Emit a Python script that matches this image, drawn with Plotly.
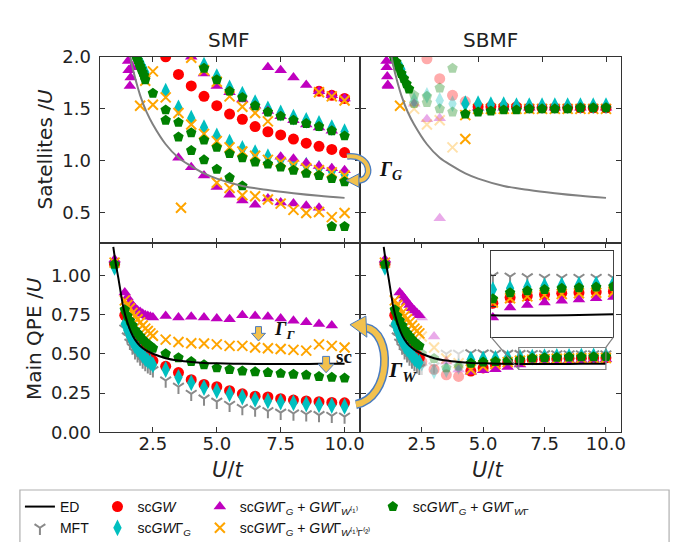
import plotly.graph_objects as go

W, H = 678, 542

# ---------------- data ----------------
# ED reference curves
ed_sat_u = [1.6, 1.7, 1.8, 2.0, 2.25, 2.5, 3.0, 3.5, 4.0, 4.5, 5.0, 6.0, 7.0, 8.0, 9.0, 10.0]
ed_sat = [2.02, 1.90, 1.80, 1.63, 1.47, 1.35, 1.16, 1.03, 0.95, 0.88, 0.83, 0.76, 0.72, 0.69, 0.665, 0.645]
ed_qpe_u = [0.95, 1.05, 1.15, 1.25, 1.35, 1.5, 1.65, 1.8, 2.0, 2.25, 2.5, 3.0, 3.5, 4.0, 4.5, 5.0,
            6.0, 7.0, 8.0, 9.0, 10.0]
ed_qpe = [1.18, 1.07, 0.98, 0.88, 0.79, 0.70, 0.635, 0.59, 0.55, 0.52, 0.50, 0.472, 0.457, 0.448,
          0.442, 0.439, 0.436, 0.435, 0.435, 0.436, 0.437]

# ---- SMF satellites ----
smf_sat_gw_u = [3.0, 3.5, 4.0, 4.5, 5.0, 5.5, 6.0, 6.5, 7.0, 7.5, 8.0, 8.5, 9.0, 9.5, 10.0, 9.0, 9.5, 10.0]
smf_sat_gw = [2.00, 1.83, 1.72, 1.62, 1.53, 1.45, 1.40, 1.33, 1.28, 1.25, 1.21, 1.17, 1.14, 1.11, 1.08,
              1.67, 1.63, 1.60]
smf_sat_gwg_u = [1.9, 2.0, 2.1, 2.2,
                 4.5, 5.0, 5.5, 6.0, 6.5, 7.0, 7.5, 8.0, 8.5, 9.0, 9.5, 10.0,
                 3.0, 3.5, 4.0, 4.5, 5.0, 5.5, 6.0, 6.5, 7.0, 7.5, 8.0, 8.5, 9.0, 9.5, 10.0]
smf_sat_gwg = [1.98, 1.95, 1.90, 1.85,
               1.92, 1.81, 1.70, 1.64, 1.56, 1.50, 1.46, 1.42, 1.39, 1.36, 1.32, 1.28,
               1.67, 1.51, 1.41, 1.32, 1.24, 1.18, 1.12, 1.08, 1.04, 1.01, 0.98, 0.96, 0.93, 0.90, 0.87]
smf_sat_w1_u = [1.53, 1.55, 1.60, 1.63, 1.68,
                7.0, 7.5, 8.0, 8.5, 9.0, 9.5, 10.0,
                4.0, 4.5, 5.0, 5.5, 6.0, 6.5, 7.0, 7.5, 8.0, 8.5, 9.0, 9.5,
                7.5, 8.0, 8.5, 9.0, 9.5, 10.0,
                3.5, 4.0, 4.5, 5.0, 5.5, 6.0, 6.5, 7.0, 7.5, 8.0, 8.5, 9.0]
smf_sat_w1 = [1.96, 1.87, 1.72, 1.80, 1.90,
              1.90, 1.87, 1.80, 1.73, 1.67, 1.63, 1.60,
              2.00, 1.84, 1.72, 1.66, 1.59, 1.53, 1.48, 1.43, 1.39, 1.35, 1.32, 1.29,
              1.04, 1.02, 0.98, 0.95, 0.93, 0.91,
              1.03, 0.94, 0.86, 0.75, 0.675, 0.62, 0.58, 0.64, 0.60, 0.59, 0.57, 0.55]
smf_sat_w12_u = [2.0, 2.2, 2.5, 2.5,
                 4.0, 4.5, 5.0, 5.5, 6.0, 6.5, 7.0,
                 9.0, 9.5, 10.0,
                 3.0, 3.5, 4.0, 4.5, 5.0, 5.5, 6.0, 6.5, 7.0, 7.5, 8.0, 8.5, 9.0, 9.5, 10.0,
                 3.6, 5.0, 5.5, 6.0, 6.5, 7.0, 7.5, 8.0, 8.5, 9.0, 9.5, 10.0]
smf_sat_w12 = [1.53, 1.77, 1.54, 1.86,
               1.99, 1.87, 1.76, 1.62, 1.52, 1.46, 1.38,
               1.66, 1.62, 1.58,
               1.61, 1.46, 1.35, 1.26, 1.19, 1.13, 1.09, 1.05, 1.01, 0.99, 0.96, 0.93, 0.91, 0.89, 0.86,
               0.55, 0.79, 0.74, 0.67, 0.66, 0.63, 0.59, 0.53, 0.50, 0.51, 0.46, 0.50]
smf_sat_wg_u = [1.85, 1.9, 1.95, 2.0, 2.05, 2.1, 2.15, 2.2, 2.5,
                4.5, 5.0, 5.5, 6.0, 6.5, 7.0, 7.5, 8.0, 8.5, 9.0, 9.5, 10.0,
                3.0, 3.5, 4.0, 4.5, 5.0, 5.5, 6.0, 6.5, 7.0, 7.5, 8.0, 8.5, 9.0, 9.5, 10.0,
                3.0, 3.5, 4.0, 4.5, 5.0, 5.5, 6.0,
                9.5, 10.0]
smf_sat_wg = [2.00, 1.97, 1.94, 1.91, 1.88, 1.85, 1.82, 1.78, 1.65,
              1.89, 1.78, 1.67, 1.61, 1.53, 1.47, 1.43, 1.39, 1.36, 1.33, 1.29, 1.24,
              1.49, 1.37, 1.27, 1.20, 1.13, 1.07, 1.03, 0.99, 0.97, 0.94, 0.91, 0.88, 0.86, 0.83, 0.80,
              1.39, 1.23, 1.10, 1.01, 0.92, 0.84, 0.76,
              0.37, 0.37]

# ---- SBMF satellites (solid and faded points) ----
sbmf_sat_gw_u = [5.0, 5.5, 6.0, 6.5, 7.0, 7.5, 8.0, 8.5, 9.0, 9.5, 10.0]
sbmf_sat_gw = [1.52, 1.52, 1.52, 1.52, 1.51, 1.51, 1.51, 1.51, 1.51, 1.51, 1.51]
sbmf_sat_gw_f_u = [3.0, 3.5, 4.0, 4.5]
sbmf_sat_gw_f = [1.98, 1.79, 1.63, 1.57]
sbmf_sat_gwg_u = [2.0, 2.1, 4.5, 5.0, 5.5, 6.0, 6.5, 7.0, 7.5, 8.0, 8.5, 9.0, 9.5, 10.0]
sbmf_sat_gwg = [1.88, 1.80, 1.55, 1.55, 1.54, 1.54, 1.53, 1.53, 1.53, 1.53, 1.53, 1.53, 1.53, 1.53]
sbmf_sat_gwg_f_u = [2.5, 3.0, 3.5, 4.0]
sbmf_sat_gwg_f = [1.58, 1.63, 1.58, 1.55]
sbmf_sat_w1_u = [1.42, 1.43, 1.45, 1.47, 1.48, 5.0, 6.0, 7.0, 8.0, 9.0, 10.0]
sbmf_sat_w1 = [1.96, 1.90, 1.81, 1.73, 1.72, 1.51, 1.51, 1.51, 1.51, 1.51, 1.51]
sbmf_sat_w1_f_u = [2.5, 3.0, 3.5, 3.5]
sbmf_sat_w1_f = [1.55, 1.40, 1.41, 0.45]
sbmf_sat_w12_u = [1.95, 4.5, 4.5, 5.0, 5.5, 6.0, 6.5, 7.0, 7.5, 8.0, 8.5, 9.0, 9.5, 10.0]
sbmf_sat_w12 = [1.53, 1.44, 1.21, 1.50, 1.50, 1.50, 1.50, 1.50, 1.50, 1.50, 1.50, 1.50, 1.50, 1.50]
sbmf_sat_w12_f_u = [2.5, 3.0, 3.5, 4.0]
sbmf_sat_w12_f = [1.50, 1.35, 1.39, 1.13]
sbmf_sat_wg_u = [1.7, 1.8, 1.9, 2.0, 2.1, 2.2, 2.3,
                 4.5, 5.0, 5.5, 6.0, 6.5, 7.0, 7.5, 8.0, 8.5, 9.0, 9.5, 10.0]
sbmf_sat_wg = [2.00, 1.95, 1.90, 1.84, 1.79, 1.74, 1.69,
               1.45, 1.47, 1.48, 1.49, 1.49, 1.50, 1.50, 1.50, 1.50, 1.51, 1.51, 1.51]
sbmf_sat_wg_f_u = [2.5, 2.5, 3.0, 3.0, 3.5, 3.5, 4.0, 4.0]
sbmf_sat_wg_f = [1.63, 1.55, 1.62, 1.56, 1.70, 1.50, 1.89, 1.47]

# ---- SMF main QPE ----
u_qpe = [1.0, 1.4, 1.5, 1.6, 1.7, 1.8, 1.9, 2.0, 2.1, 2.2, 2.3, 2.4,
         2.5, 3.0, 3.5, 4.0, 4.5, 5.0, 5.5, 6.0, 6.5, 7.0, 7.5, 8.0, 8.5, 9.0, 9.5, 10.0]
smf_qpe_mft = [1.06, 0.66, 0.61, 0.57, 0.54, 0.51, 0.49, 0.47, 0.45, 0.435, 0.42, 0.41,
               0.395, 0.33, 0.29, 0.245, 0.215, 0.195, 0.175, 0.155, 0.145, 0.135, 0.125, 0.12,
               0.115, 0.11, 0.105, 0.10]
smf_qpe_gw = [1.07, 0.745, 0.70, 0.66, 0.62, 0.59, 0.565, 0.545, 0.525, 0.505, 0.49, 0.475,
              0.455, 0.42, 0.38, 0.335, 0.305, 0.29, 0.265, 0.245, 0.23, 0.225, 0.214, 0.205,
              0.20, 0.195, 0.19, 0.188]
smf_qpe_gwg = [1.05, 0.69, 0.65, 0.61, 0.58, 0.55, 0.53, 0.51, 0.49, 0.47, 0.455, 0.445,
               0.43, 0.40, 0.35, 0.315, 0.285, 0.265, 0.245, 0.225, 0.21, 0.20, 0.193, 0.187,
               0.18, 0.175, 0.17, 0.165]
smf_qpe_w1 = [1.10, 0.89, 0.86, 0.83, 0.81, 0.79, 0.775, 0.765, 0.755, 0.745, 0.74, 0.735,
              0.73, 0.74, 0.73, 0.735, 0.73, 0.725, 0.72, 0.745, 0.74, 0.735, 0.725, 0.71,
              0.70, 0.69, 0.68, None]
smf_qpe_w12 = [1.08, 0.84, 0.81, 0.79, 0.76, 0.74, 0.72, 0.70, 0.68, 0.66, 0.645, 0.63,
               0.615, 0.59, 0.575, 0.567, 0.565, 0.56, 0.55, 0.55, 0.54, 0.535, 0.53, 0.525,
               0.52, 0.56, 0.55, 0.54]
smf_qpe_wg = [1.07, 0.78, 0.74, 0.71, 0.68, 0.65, 0.63, 0.61, 0.59, 0.575, 0.56, 0.55,
              0.535, 0.50, 0.475, 0.45, 0.43, 0.41, 0.40, 0.39, 0.385, 0.38, 0.375, 0.37,
              0.365, 0.355, 0.35, 0.345]

# ---- SBMF main QPE ----
u_sb_dense = [1.0, 1.4, 1.5, 1.6, 1.7, 1.8, 1.9, 2.0, 2.1, 2.2, 2.3, 2.4]
u_sb_mid = [2.5, 3.0, 3.5, 4.0]
u_sb_tail = [4.5, 5.0, 5.5, 6.0, 6.5, 7.0, 7.5, 8.0, 8.5, 9.0, 9.5, 10.0]
sbmf_qpe_mft = [1.06, 0.66, 0.61, 0.57, 0.54, 0.51, 0.49, 0.47, 0.45, 0.435, 0.42, 0.41,
                0.503, 0.502, 0.50, 0.50, 0.499, 0.498, 0.497, 0.496, 0.496, 0.496, 0.496, 0.496]
sbmf_qpe_mft_f = [0.41, 0.42, 0.50, 0.50]
sbmf_qpe_gw = [1.07, 0.745, 0.70, 0.66, 0.62, 0.59, 0.565, 0.545, 0.525, 0.505, 0.49, 0.475,
               0.39, 0.41, 0.43, 0.445, 0.455, 0.464, 0.467, 0.469, 0.471, 0.472, 0.473, 0.474]
sbmf_qpe_gw_f = [0.45, 0.40, 0.366, 0.356]
sbmf_qpe_gwg = [1.05, 0.69, 0.65, 0.61, 0.58, 0.55, 0.53, 0.51, 0.49, 0.47, 0.455, 0.445,
                0.465, 0.468, 0.47, 0.474, 0.477, 0.479, 0.481, 0.483, 0.484, 0.485, 0.486, 0.487]
sbmf_qpe_gwg_f = [0.44, 0.39, 0.40, 0.42]
sbmf_qpe_w1 = [1.10, None, None, 0.89, 0.87, 0.85, 0.83, 0.81, 0.79, 0.775, 0.76, 0.745,
               0.386, 0.395, 0.402, 0.415, 0.432, 0.448, 0.452, 0.456, 0.459, 0.461, 0.463, 0.465]
sbmf_qpe_w1_f = [0.73, 0.61, 0.45, 0.40]
sbmf_qpe_w12 = [1.08, 0.84, 0.81, 0.79, 0.76, 0.74, 0.72, 0.70, 0.68, 0.66, 0.645, 0.63,
                0.40, 0.42, 0.435, 0.447, 0.456, 0.463, 0.466, 0.468, 0.47, 0.471, 0.472, 0.473]
sbmf_qpe_w12_f = [0.61, 0.54, 0.47, 0.44]
sbmf_qpe_wg = [1.07, 0.78, 0.74, 0.71, 0.68, 0.65, 0.63, 0.61, 0.59, 0.575, 0.56, 0.55,
               0.44, 0.447, 0.45, 0.455, 0.462, 0.472, 0.475, 0.477, 0.479, 0.48, 0.481, 0.482]
sbmf_qpe_wg_f = [0.50, 0.47, 0.41, 0.42]

x_ticks = [2.5, 5.0, 7.5, 10.0]
x_tick_text = ["2.5", "5.0", "7.5", "10.0"]
sat_ticks = [0.5, 1.0, 1.5, 2.0]
sat_tick_text = ["0.5", "1.0", "1.5", "2.0"]
qpe_ticks = [0.0, 0.25, 0.5, 0.75, 1.0]
qpe_tick_text = ["0.00", "0.25", "0.50", "0.75", "1.00"]
inset_ticks = [0.45, 0.5]

NAMES = {
    "ed": "ED",
    "mft": "MFT",
    "gw": "sc<i>GW</i>",
    "gwg": "sc<i>GW</i>Γ<sub><i>G</i></sub>",
    "w1": "sc<i>GW</i>Γ<sub><i>G</i></sub> + <i>GW</i>Γ<sub><i>W</i>⁽¹⁾</sub>",
    "w12": "sc<i>GW</i>Γ<sub><i>G</i></sub> + <i>GW</i>Γ<sub><i>W</i>⁽¹⁾Γ⁽²⁾</sub>",
    "wg": "sc<i>GW</i>Γ<sub><i>G</i></sub> + <i>GW</i>Γ<sub><i>W</i>Γ</sub>",
}

# ---------------- styles ----------------
STYLE = {
    "mft": ("y-down-open", "#8a8a8a", 9, 2),
    "gw": ("circle", "#ff0000", 11, 0),
    "gwg": ("diamond-tall", "#00bfbf", 12, 0),
    "w1": ("triangle-up", "#bf00bf", 11, 0),
    "w12": ("x-thin-open", "#ffa500", 10, 2),
    "wg": ("pentagon", "#008000", 11, 0),
}
LEGEND_OF = {"ed": "legend", "mft": "legend", "gw": "legend2", "gwg": "legend2",
             "w1": "legend3", "w12": "legend3", "wg": "legend4"}
RANK = {"ed": 1, "mft": 2, "gw": 1, "gwg": 2, "w1": 1, "w12": 2, "wg": 1}
FADE = 0.33

fig = go.Figure()
shown = set()


def add(key, u, v, xa, ya, opacity=1.0):
    sym, col, size, lw = STYLE[key]
    show = key not in shown and opacity == 1.0
    if show:
        shown.add(key)
    fig.add_trace(go.Scatter(
        x=u, y=v, mode="markers", xaxis=xa, yaxis=ya, opacity=opacity,
        marker=dict(symbol=sym, size=size, color=col, line=dict(width=lw, color=col)),
        name=NAMES[key], showlegend=show, legend=LEGEND_OF[key], legendrank=RANK[key],
        hoverinfo="skip"))


def add_ed(u, v, xa, ya, color, show=False):
    fig.add_trace(go.Scatter(
        x=u, y=v, mode="lines", xaxis=xa, yaxis=ya, line=dict(color=color, width=2, shape="spline"),
        name=NAMES["ed"], showlegend=show, legend="legend", legendrank=1, hoverinfo="skip"))


# --- top-left: SMF satellites
add("gw", smf_sat_gw_u, smf_sat_gw, "x", "y")
add("gwg", smf_sat_gwg_u, smf_sat_gwg, "x", "y")
add("w1", smf_sat_w1_u, smf_sat_w1, "x", "y")
add("w12", smf_sat_w12_u, smf_sat_w12, "x", "y")
add("wg", smf_sat_wg_u, smf_sat_wg, "x", "y")
add_ed(ed_sat_u, ed_sat, "x", "y", "#808080")

# --- top-right: SBMF satellites
add("gw", sbmf_sat_gw_f_u, sbmf_sat_gw_f, "x2", "y2", FADE)
add("gwg", sbmf_sat_gwg_f_u, sbmf_sat_gwg_f, "x2", "y2", FADE)
add("w1", sbmf_sat_w1_f_u, sbmf_sat_w1_f, "x2", "y2", FADE)
add("w12", sbmf_sat_w12_f_u, sbmf_sat_w12_f, "x2", "y2", FADE)
add("wg", sbmf_sat_wg_f_u, sbmf_sat_wg_f, "x2", "y2", FADE)
add("w1", sbmf_sat_w1_u, sbmf_sat_w1, "x2", "y2")
add("w12", sbmf_sat_w12_u, sbmf_sat_w12, "x2", "y2")
add("gw", sbmf_sat_gw_u, sbmf_sat_gw, "x2", "y2")
add("gwg", sbmf_sat_gwg_u, sbmf_sat_gwg, "x2", "y2")
add("wg", sbmf_sat_wg_u, sbmf_sat_wg, "x2", "y2")
add_ed(ed_sat_u, ed_sat, "x2", "y2", "#808080")

# --- bottom-left: SMF main QPE
add("mft", u_qpe, smf_qpe_mft, "x3", "y3")
add("gw", u_qpe, smf_qpe_gw, "x3", "y3")
add("gwg", u_qpe, smf_qpe_gwg, "x3", "y3")
add("w1", u_qpe, smf_qpe_w1, "x3", "y3")
add("w12", u_qpe, smf_qpe_w12, "x3", "y3")
add("wg", u_qpe, smf_qpe_wg, "x3", "y3")
add_ed(ed_qpe_u, ed_qpe, "x3", "y3", "black", show=True)

# --- bottom-right: SBMF main QPE (+ inset with the same data)
u_sb_solid = u_sb_dense + u_sb_tail
for xa, ya in (("x4", "y4"), ("x5", "y5")):
    add("mft", u_sb_mid, sbmf_qpe_mft_f, xa, ya, FADE)
    add("gw", u_sb_mid, sbmf_qpe_gw_f, xa, ya, FADE)
    add("gwg", u_sb_mid, sbmf_qpe_gwg_f, xa, ya, FADE)
    add("w1", u_sb_mid, sbmf_qpe_w1_f, xa, ya, FADE)
    add("w12", u_sb_mid, sbmf_qpe_w12_f, xa, ya, FADE)
    add("wg", u_sb_mid, sbmf_qpe_wg_f, xa, ya, FADE)
    add("mft", u_sb_solid, sbmf_qpe_mft, xa, ya)
    add("gw", u_sb_solid, sbmf_qpe_gw, xa, ya)
    add("gwg", u_sb_solid, sbmf_qpe_gwg, xa, ya)
    add("w1", u_sb_solid, sbmf_qpe_w1, xa, ya)
    add("w12", u_sb_solid, sbmf_qpe_w12, xa, ya)
    add("wg", u_sb_solid, sbmf_qpe_wg, xa, ya)
    add_ed(ed_qpe_u, ed_qpe, xa, ya, "black")


# ---------------- layout ----------------
def px(x):
    return x / W


def py(y):
    return 1 - y / H


XL = [px(92.3), px(354.5)]
XR = [px(354.5), px(617)]
YT = [py(233), py(39.3)]
YB = [py(430), py(233)]
XIN = [px(486), px(609)]
YIN = [py(331), py(241)]

FRAME = "#333333"
TICKFONT = dict(family="DejaVu Sans", size=18, color="#222222")


def ax(domain, rng, tickvals, ticktext, labels, anchor, standoff):
    d = dict(domain=domain, range=rng, tickvals=tickvals,
             showticklabels=labels, ticks="inside", ticklen=5, tickwidth=1.2, tickcolor=FRAME,
             showline=True, linecolor=FRAME, linewidth=1.3, mirror="ticks",
             showgrid=False, zeroline=False, tickfont=TICKFONT, anchor=anchor,
             ticklabelstandoff=standoff)
    if ticktext is not None:
        d["ticktext"] = ticktext
    return d


XR_L = [0.42, 10.62]
layout = dict(
    width=W, height=H, margin=dict(l=0, r=0, t=0, b=0),
    paper_bgcolor="white", plot_bgcolor="white",
    xaxis=ax(XL, XR_L, x_ticks, x_tick_text, False, "y", -5),
    yaxis=ax(YT, [0.212, 2.0], sat_ticks, sat_tick_text, True, "x", 4),
    xaxis2=ax(XR, [0.4, 10.6], x_ticks, x_tick_text, False, "y2", -5),
    yaxis2=ax(YT, [0.212, 2.0], sat_ticks, sat_tick_text, False, "x2", 4),
    xaxis3=ax(XL, XR_L, x_ticks, x_tick_text, True, "y3", -5),
    yaxis3=ax(YB, [0.0, 1.205], qpe_ticks, qpe_tick_text, True, "x3", 4),
    xaxis4=ax(XR, [0.0, 10.63], x_ticks, x_tick_text, True, "y4", -5),
    yaxis4=ax(YB, [0.0, 1.205], qpe_ticks, qpe_tick_text, False, "x4", 4),
    xaxis5=ax(XIN, [6.45, 10.0], [], None, False, "y5", 0),
    yaxis5=ax(YIN, [0.40, 0.54], inset_ticks, None, False, "x5", 0),
)
fig.update_layout(**layout)
fig.update_layout(xaxis5=dict(mirror=True), yaxis5=dict(mirror=True, linecolor="#444444"))

LEG_FONT = dict(family="Liberation Sans Narrow, Liberation Sans, sans-serif", size=14, color="#111111")
for name, xpix in (("legend", 12), ("legend2", 90), ("legend3", 193), ("legend4", 367)):
    fig.update_layout({name: dict(x=px(xpix), y=py(491), xanchor="left", yanchor="top",
                                  orientation="v", bgcolor="rgba(0,0,0,0)", borderwidth=0,
                                  font=LEG_FONT, tracegroupgap=0, traceorder="normal")})

# ---------------- annotations ----------------
ann = []


def text(x, y, s, size, angle=0, family="DejaVu Sans", color="#222222"):
    ann.append(dict(x=px(x), y=py(y), xref="paper", yref="paper", text=s, showarrow=False,
                    textangle=angle, font=dict(family=family, size=size, color=color),
                    xanchor="center", yanchor="middle"))


text(222, 22, "SMF", 20)
text(485, 22, "SBMF", 20)
text(37, 136, "Satellites /<i>U</i>", 20, -90)
text(26, 332, "Main QPE /<i>U</i>", 20, -90)
text(221, 469, "<i>U</i>/<i>t</i>", 21)
text(482, 469, "<i>U</i>/<i>t</i>", 21)
SERIF = "Liberation Serif, DejaVu Serif, serif"
text(385, 158, "<b><i>Γ<sub>G</sub></i></b>", 20, family=SERIF, color="#111111")
text(278, 324, "<b><i>Γ<sub>Γ</sub></i></b>", 19, family=SERIF, color="#111111")
text(338, 351, "<b>sc</b>", 19, family=SERIF, color="#111111")
text(397, 366, "<b><i>Γ<sub>W</sub></i></b>", 22, family=SERIF, color="#111111")
fig.update_layout(annotations=ann)

# ---------------- shapes (arrows, inset marks, legend frame) ----------------
shapes = []
YEL = "#f2c14e"
BLUE = "#4a7cc0"


def P(*pts):
    out = []
    for cmd, *xy in pts:
        coords = " ".join("%.5f,%.5f" % (px(a), py(b)) for a, b in xy)
        out.append(cmd + coords)
    return " ".join(out)


def stroke(path, color, width):
    shapes.append(dict(type="path", xref="paper", yref="paper", path=path,
                       line=dict(color=color, width=width), fillcolor="rgba(0,0,0,0)", layer="above"))


def poly(path):
    shapes.append(dict(type="path", xref="paper", yref="paper", path=path + " Z",
                       line=dict(color=BLUE, width=1), fillcolor=YEL, layer="above"))


# Gamma_G curved arrow
g_path = P(("M", (341, 143)), ("C", (366, 140), (368, 168), (352, 168)))
stroke(g_path, BLUE, 6.5)
stroke(g_path, YEL, 4)
poly(P(("M", (340, 168)), ("L", (353, 161)), ("L", (353, 175))))

# Gamma_W curved arrow
w_path = P(("M", (350, 401)), ("C", (386, 394), (387, 326), (360, 321)))
stroke(w_path, BLUE, 9)
stroke(w_path, YEL, 6)
poly(P(("M", (344, 318)), ("L", (360, 309)), ("L", (361, 331))))


def down_arrow(cx, top, neck, tip, bw, hw):
    poly(P(("M", (cx - bw, top)), ("L", (cx + bw, top)), ("L", (cx + bw, neck)), ("L", (cx + hw, neck)),
           ("L", (cx, tip)), ("L", (cx - hw, neck)), ("L", (cx - bw, neck))))


down_arrow(252, 320, 327, 335, 3, 7)
down_arrow(320, 351, 359, 368, 3.5, 8)

# inset indicator rectangle and connectors
rx0, rx1, ry0, ry1 = 6.45, 10.0, 0.40, 0.54
shapes.append(dict(type="rect", xref="x4", yref="y4", x0=rx0, x1=rx1, y0=ry0, y1=ry1,
                   line=dict(color="#808080", width=1.2), layer="above"))


def to_paper(v, rng, dom):
    return dom[0] + (v - rng[0]) / (rng[1] - rng[0]) * (dom[1] - dom[0])


rxp0 = to_paper(rx0, [0.0, 10.63], XR)
rxp1 = to_paper(rx1, [0.0, 10.63], XR)
ryp0 = to_paper(ry0, [0.0, 1.205], YB)
ryp1 = to_paper(ry1, [0.0, 1.205], YB)
shapes.append(dict(type="line", xref="paper", yref="paper", x0=XIN[0], y0=YIN[0], x1=rxp0, y1=ryp0,
                   line=dict(color="#808080", width=1.2), layer="above"))
shapes.append(dict(type="line", xref="paper", yref="paper", x0=XIN[1], y0=YIN[0], x1=rxp1, y1=ryp1,
                   line=dict(color="#808080", width=1.2), layer="above"))

# legend frame
shapes.append(dict(type="rect", xref="paper", yref="paper", x0=px(12), x1=px(665), y0=py(549), y1=py(490),
                   line=dict(color="#b0b0b0", width=1.2), fillcolor="rgba(0,0,0,0)", layer="below"))
fig.update_layout(shapes=shapes)

fig.write_html("out.html")
